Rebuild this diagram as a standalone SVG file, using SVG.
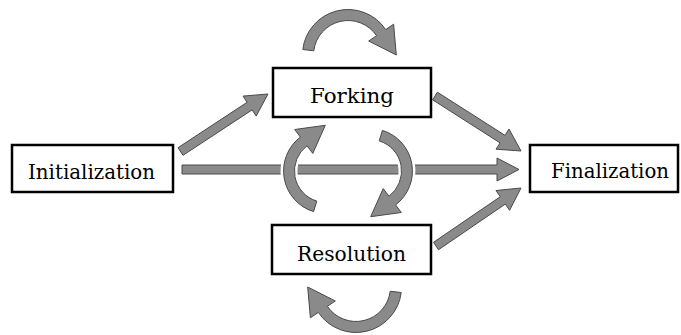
<svg xmlns="http://www.w3.org/2000/svg" xmlns:xlink="http://www.w3.org/1999/xlink" width="681" height="335" viewBox="0 0 681 335">
<style>
.box{fill:#fff;stroke:#000;stroke-width:2.5}
.lbl{font-family:"DejaVu Serif","Liberation Serif",serif;font-size:21px;fill:#000}
.arr{fill:#8a8a8a;stroke:#4a4a4a;stroke-width:1;stroke-linejoin:miter}
.halo{fill:#fff;stroke:#fff;stroke-width:6;stroke-linejoin:round}
</style>
<defs>
<path id="cTop" d="M302.8,49.5 A45.5,45.5 0 0 1 385.7,29.6 L393.6,24.2 L396.3,55.0 L368.7,41.0 L376.6,35.7 A34.5,34.5 0 0 0 313.8,50.8 Z"/>
<path id="cBot" d="M401.2,292.5 A45.5,45.5 0 0 1 318.3,312.4 L310.4,317.8 L307.7,287.0 L335.3,301.0 L327.4,306.3 A34.5,34.5 0 0 0 390.2,291.2 Z"/>
<path id="cLeft" d="M313.6,211.6 A42.5,42.5 0 0 1 300.4,137.1 L294.7,129.5 L325.3,125.3 L312.8,153.4 L307.0,145.8 A31.5,31.5 0 0 0 316.8,201.1 Z"/>
<path id="cRight" d="M382.4,130.4 A42.5,42.5 0 0 1 395.6,204.9 L401.3,212.5 L370.7,216.7 L383.2,188.6 L389.0,196.2 A31.5,31.5 0 0 0 379.2,140.9 Z"/>
</defs>
<rect width="681" height="335" fill="#fff"/>
<g id="connectors">
<polygon class="arr" points="182,165 497,165 497,158 519,169.5 497,181 497,174 182,174"/>
<polygon class="arr" points="178.0,147.7 247.1,102.3 243.0,96.1 268,94 256.2,116.1 252.1,109.9 183.0,155.3"/>
<polygon class="arr" points="437.4,92.2 504.9,135.3 509.0,129.0 521,151 496.0,149.2 500.1,142.9 432.6,99.8"/>
<polygon class="arr" points="433.5,242.3 500.3,196.7 496.0,190.5 521,188 509.6,210.3 505.3,204.1 438.5,249.7"/>
<use xlink:href="#cTop" class="arr"/>
<use xlink:href="#cBot" class="arr"/>
<use xlink:href="#cLeft" class="halo"/>
<use xlink:href="#cRight" class="halo"/>
<use xlink:href="#cLeft" class="arr"/>
<use xlink:href="#cRight" class="arr"/>
</g>
<g id="initialization">
<rect class="box" x="12" y="145" width="161" height="47"/>
<text class="lbl" x="28" y="179" textLength="127" lengthAdjust="spacingAndGlyphs">Initialization</text>
</g>
<g id="forking">
<rect class="box" x="273" y="68" width="158" height="49"/>
<text class="lbl" x="310" y="103" textLength="84" lengthAdjust="spacingAndGlyphs">Forking</text>
</g>
<g id="resolution">
<rect class="box" x="272" y="225" width="159" height="49"/>
<text class="lbl" x="297" y="261" textLength="109" lengthAdjust="spacingAndGlyphs">Resolution</text>
</g>
<g id="finalization">
<rect class="box" x="530" y="145" width="148" height="47"/>
<text class="lbl" x="551" y="178" textLength="118" lengthAdjust="spacingAndGlyphs">Finalization</text>
</g>
</svg>
